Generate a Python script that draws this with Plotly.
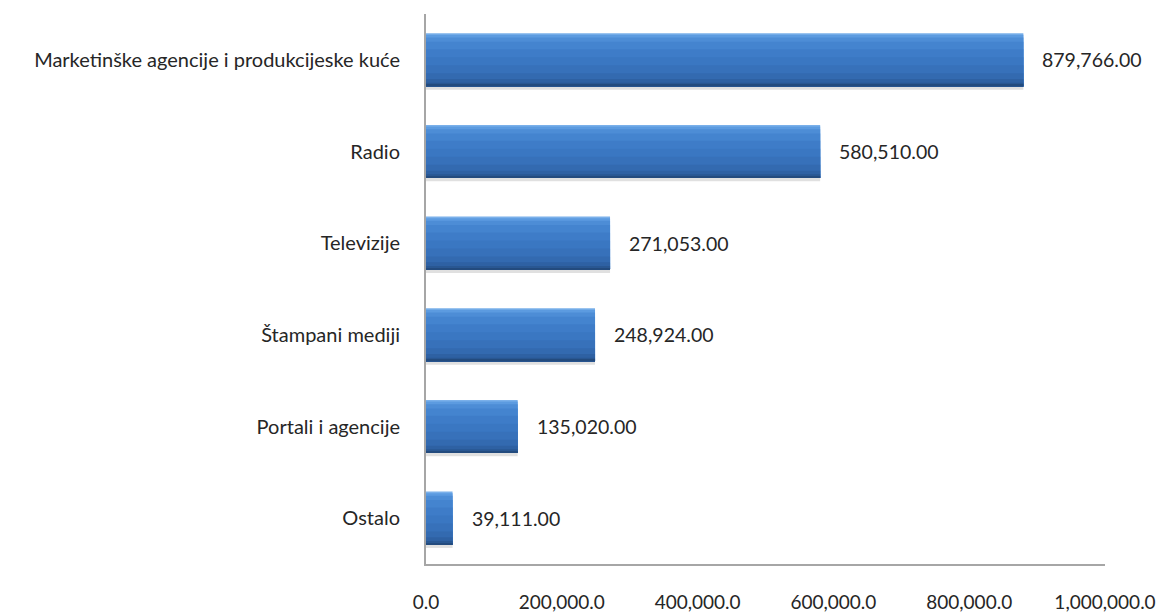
import plotly.graph_objects as go

# Data
categories = [
    "Marketinške agencije i produkcijeske kuće",
    "Radio",
    "Televizije",
    "Štampani mediji",
    "Portali i agencije",
    "Ostalo",
]
values = [879766.00, 580510.00, 271053.00, 248924.00, 135020.00, 39111.00]
tick_values = [0, 200000, 400000, 600000, 800000, 1000000]
tick_labels = ["0.0", "200,000.0", "400,000.0", "600,000.0", "800,000.0", "1,000,000.0"]

positions = list(range(len(categories)))
FONT = "Lato, 'Open Sans', sans-serif"
TEXT = "#262626"

HALF = 0.29  # half bar thickness in category units

fig = go.Figure()

# soft shadow under each bar
fig.add_trace(go.Bar(
    x=values, y=positions, orientation="h",
    width=0.04, offset=HALF - 0.005, marker=dict(color="rgba(0,0,0,0.12)", line_width=0),
    hoverinfo="skip", showlegend=False,
))

# vertical gradient: each layer starts lower and runs to the bottom edge,
# so later (darker) layers cover the lower part of the earlier ones
gradient = [
    (0.000, "#7ab0ea"),
    (0.030, "#5c9be0"),
    (0.080, "#4d8dd6"),
    (0.160, "#4484cf"),
    (0.300, "#3e7cc8"),
    (0.450, "#3a77c2"),
    (0.600, "#3771ba"),
    (0.750, "#336ab0"),
    (0.860, "#2e61a3"),
    (0.930, "#295792"),
    (0.970, "#234b7e"),
]
for frac, col in gradient:
    start = -HALF + frac * 2 * HALF
    fig.add_trace(go.Bar(
        x=values, y=positions, orientation="h",
        width=HALF - start, offset=start, marker=dict(color=col, line_width=0),
        hoverinfo="skip", showlegend=False,
    ))

# value labels
for v, p in zip(values, positions):
    fig.add_annotation(
        x=v, y=p, text=f"{v:,.2f}", showarrow=False,
        xanchor="left", yanchor="middle", xshift=17,
        font=dict(family=FONT, size=19.5, color=TEXT),
    )

fig.update_layout(
    barmode="overlay",
    width=1160, height=612,
    margin=dict(l=426, r=55, t=14, b=48, autoexpand=False),
    paper_bgcolor="white", plot_bgcolor="white",
    font=dict(family=FONT, size=19.5, color=TEXT),
    xaxis=dict(
        range=[0, 1000000], tickvals=tick_values, ticktext=tick_labels,
        showgrid=False, zeroline=False, automargin=False,
        showline=True, linecolor="#a6a6a6", linewidth=2,
        ticks="", ticklabelstandoff=20,
        tickfont=dict(family=FONT, size=19, color=TEXT),
    ),
    yaxis=dict(
        range=[len(categories) - 0.5, -0.5],
        tickvals=positions, ticktext=categories,
        showgrid=False, zeroline=False, automargin=False,
        showline=True, linecolor="#a6a6a6", linewidth=2,
        ticks="", ticklabelstandoff=20,
        tickfont=dict(family=FONT, size=20, color=TEXT),
    ),
)

fig.write_html("out.html")
